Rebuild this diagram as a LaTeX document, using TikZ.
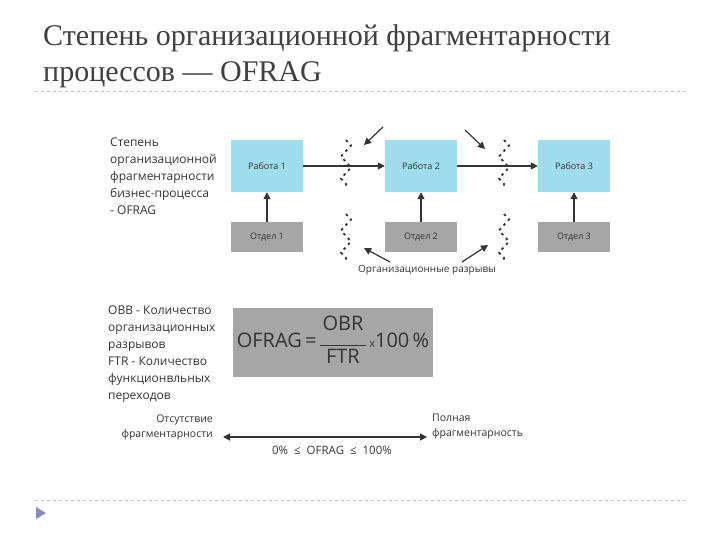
\documentclass[tikz,border=0pt]{standalone}
\usepackage{fontspec}
\setmainfont{Open Sans}
\newfontfamily\serifttl{Liberation Serif}
\usetikzlibrary{arrows.meta,decorations.pathmorphing}
\definecolor{jb}{HTML}{9FDCEC}
\definecolor{gb}{HTML}{A6A6A6}
\definecolor{tx}{HTML}{333333}
\tikzset{
 job/.style={fill=jb,minimum width=72pt,minimum height=52pt,inner sep=0pt,font=\fontsize{9}{10}\selectfont,text=tx},
 dep/.style={fill=gb,minimum width=72pt,minimum height=30pt,inner sep=0pt,font=\fontsize{9}{10}\selectfont,text=tx},
 arr/.style={draw=tx,line width=1.3pt,-{Triangle[length=7pt,width=7pt]}},
 gap/.style={draw=tx,line width=1.8pt,dash pattern=on 2.5pt off 4pt,decorate,decoration={zigzag,segment length=22pt,amplitude=5pt}},
 lbl/.style={align=left,anchor=north west,inner sep=0pt,font=\fontsize{12}{17}\selectfont,text=tx},
 sml/.style={inner sep=0pt,font=\fontsize{10}{14}\selectfont,text=tx},
 sep/.style={draw=gray!50,dashed,line width=0.5pt}
}
\begin{document}
\begin{tikzpicture}[x=1pt,y=-1pt]
\useasboundingbox (0,0) rectangle (720,540);
\node[anchor=north west,inner sep=0pt,align=left,font=\serifttl\fontsize{30}{36}\selectfont,text=black!75] (title) at (43,24) {Степень организационной фрагментарности\\процессов — OFRAG};
\coordinate (s1) at (35,91); \coordinate (s2) at (688,91);
\draw[sep] (s1) -- (s2);
\coordinate (s3) at (35,500); \coordinate (s4) at (688,500);
\draw[sep] (s3) -- (s4);
\fill[fill=blue!30!gray!70] (36,507) -- (46,513) -- (36,519) -- cycle;

\node[lbl] (desc) at (110,138) {Степень\\организационной\\фрагментарности\\бизнес-процесса\\- OFRAG};
\node[job] (r1) at (267,166) {Работа 1};
\node[job] (r2) at (421,166) {Работа 2};
\node[job] (r3) at (574,166) {Работа 3};
\node[dep] (d1) at (267,237) {Отдел 1};
\node[dep] (d2) at (421,237) {Отдел 2};
\node[dep] (d3) at (574,237) {Отдел 3};
\draw[arr] (r1) -- (r2);
\draw[arr] (r2) -- (r3);
\draw[arr] (d1) -- (r1);
\draw[arr] (d2) -- (r2);
\draw[arr] (d3) -- (r3);
\coordinate (g1a) at (346,140); \coordinate (g1b) at (346,188);
\coordinate (g1c) at (346,214); \coordinate (g1d) at (346,262);
\coordinate (g2a) at (504,140); \coordinate (g2b) at (504,188);
\coordinate (g2c) at (504,214); \coordinate (g2d) at (504,262);
\draw[gap] (g1a) -- (g1b); \draw[gap] (g1c) -- (g1d);
\draw[gap] (g2a) -- (g2b); \draw[gap] (g2c) -- (g2d);
\coordinate (t1) at (383,127); \coordinate (h1) at (364,145);
\coordinate (t2) at (465,130); \coordinate (h2) at (485,149);
\draw[arr,line width=1.2pt] (t1) -- (h1);
\draw[arr,line width=1.2pt] (t2) -- (h2);
\node[sml] (gaps) at (427,270) {Организационные разрывы};
\coordinate (h3) at (364,248); \coordinate (h4) at (488,245);
\coordinate (t3) at (390,262); \coordinate (t4) at (462,262);
\draw[arr,line width=1.2pt] (t3) -- (h3);
\draw[arr,line width=1.2pt] (t4) -- (h4);

\node[lbl] (defs) at (108,306) {ОВВ - Количество\\организационных\\разрывов\\FTR - Количество\\функционвльных\\переходов};
\node[fill=gb,minimum width=200pt,minimum height=69pt,inner sep=0pt,font=\fontsize{20}{22}\selectfont,text=tx] (fml) at (333,342.5)
 {OFRAG\,=\,$\vcenter{\hbox{\begin{tabular}{@{}c@{}}OBR\\[-4pt]\rule[2pt]{46pt}{1.5pt}\\[-7pt]FTR\end{tabular}}}$\,{\fontsize{11}{11}\selectfont x}100\,\%};
\node[sml,align=right,anchor=east,font=\fontsize{10.5}{15}\selectfont] (none) at (213,427) {Отсутствие\\фрагментарности};
\node[sml,align=left,anchor=west,font=\fontsize{10.5}{15}\selectfont] (full) at (432,427) {Полная\\фрагментарность};
\draw[draw=tx,line width=1.2pt,{Triangle[length=7pt,width=7pt]}-{Triangle[length=7pt,width=7pt]}] (223,437) -- (427,437);
\node[sml,font=\fontsize{11.5}{14}\selectfont] (rng) at (332,450) {0\%\ \ ≤\ \ OFRAG\ \ ≤\ \ 100\%};
\end{tikzpicture}
\end{document}
